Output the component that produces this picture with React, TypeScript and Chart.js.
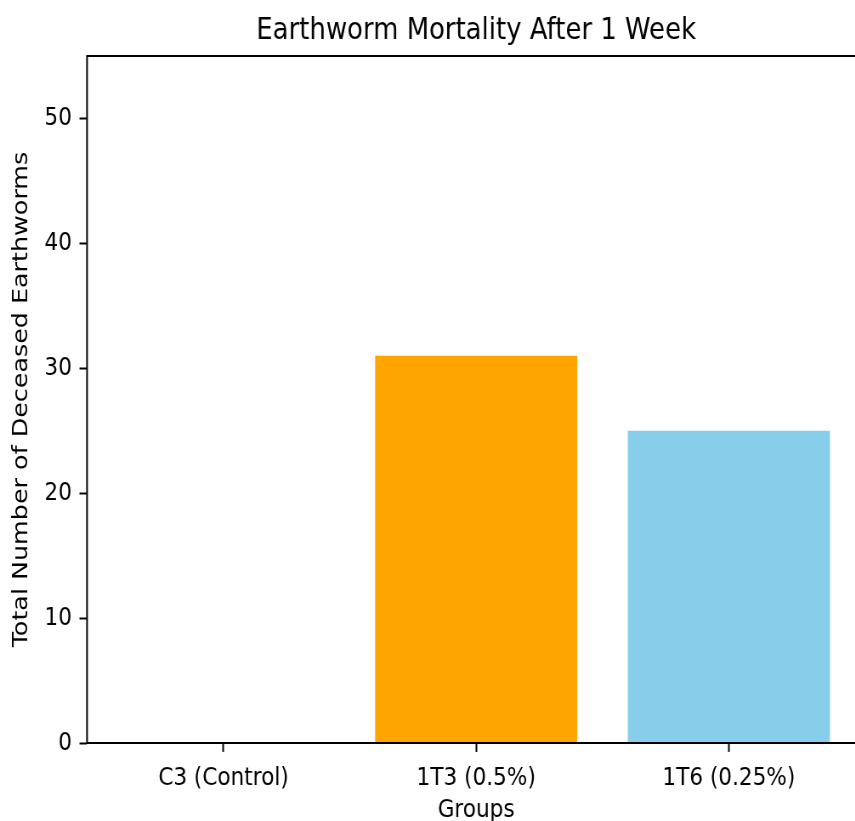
import React, { useEffect, useRef } from "react";
import { Chart, registerables } from "chart.js";

Chart.register(...registerables);

const categories = ["C3 (Control)", "1T3 (0.5%)", "1T6 (0.25%)"];
const deceased = [0, 31, 25];
const barColors = ["#1f77b4", "#FFA500", "#87CEEB"];
const yTicks = [0, 10, 20, 30, 40, 50];
const titleText = "Earthworm Mortality After 1 Week";
const xTitle = "Groups";
const yTitle = "Total Number of Deceased Earthworms";

const FONT = "'DejaVu Sans', sans-serif";
const SX = 0.85; // the reference picture is horizontally squeezed
const CANVAS_W = 1040;
const CANVAS_H = 821;

const spinePlugin = {
  id: "spines",
  afterDatasetsDraw(chart: any) {
    const { ctx, chartArea } = chart;
    ctx.save();
    ctx.strokeStyle = "#000";
    ctx.lineWidth = 2;
    ctx.strokeRect(chartArea.left, chartArea.top, chartArea.right - chartArea.left, chartArea.bottom - chartArea.top);
    ctx.restore();
  },
};

export default function App() {
  const ref = useRef<HTMLCanvasElement | null>(null);
  useEffect(() => {
    if (!ref.current) return;
    const chart = new Chart(ref.current, {
      type: "bar",
      data: {
        datasets: [
          {
            data: deceased.map((v, i) => ({ x: i, y: v })),
            backgroundColor: barColors,
            borderWidth: 0,
            barPercentage: 1,
            categoryPercentage: 0.8,
          },
        ],
      },
      options: {
        responsive: false,
        animation: false,
        devicePixelRatio: 1,
        layout: { padding: { left: 0, right: 22, top: 0, bottom: 0 } },
        plugins: {
          legend: { display: false },
          tooltip: { enabled: false },
          title: {
            display: true,
            text: titleText,
            fullSize: false,
            color: "#000",
            font: { family: FONT, size: 30.5, weight: "normal", lineHeight: 1.2 },
            padding: { top: 12.4, bottom: 7 },
          },
        },
        scales: {
          x: {
            type: "linear",
            offset: false,
            min: -0.54,
            max: 2.54,
            afterBuildTicks: (scale: any) => {
              scale.ticks = categories.map((_, i) => ({ value: i }));
            },
            afterFit: (scale: any) => {
              scale.height = 78;
            },
            ticks: {
              color: "#000",
              font: { family: FONT, size: 25.4 },
              padding: 11.5,
              autoSkip: false,
              maxRotation: 0,
              callback: (v: any) => categories[v] ?? "",
            },
            grid: {
              offset: false,
              drawOnChartArea: false,
              drawTicks: true,
              tickLength: 8.9,
              tickColor: "#000",
              tickWidth: 2,
            },
            border: { display: false },
            title: {
              display: true,
              text: xTitle,
              color: "#000",
              font: { family: FONT, size: 25.4, lineHeight: 1.2 },
              padding: { top: 0, bottom: -5 },
            },
          },
          y: {
            type: "linear",
            min: 0,
            max: 55,
            afterBuildTicks: (scale: any) => {
              scale.ticks = yTicks.map((v) => ({ value: v }));
            },
            afterFit: (scale: any) => {
              scale.width = 102.4;
            },
            ticks: {
              color: "#000",
              font: { family: FONT, size: 25.4 },
              padding: 8.9,
            },
            grid: {
              drawOnChartArea: false,
              drawTicks: true,
              tickLength: 8.9,
              tickColor: "#000",
              tickWidth: 2,
            },
            border: { display: false },
            title: {
              display: true,
              text: yTitle,
              color: "#000",
              font: { family: FONT, size: 25.4, lineHeight: 1.2 },
              padding: { top: 10.5, bottom: 0 },
            },
          },
        },
      } as any,
      plugins: [spinePlugin],
    });
    return () => chart.destroy();
  }, []);

  return (
    <div style={{ position: "fixed", left: 0, top: 0, width: 855, height: 821, overflow: "hidden", background: "#fff" }}>
      <canvas
        ref={ref}
        width={CANVAS_W}
        height={CANVAS_H}
        style={{
          width: CANVAS_W,
          height: CANVAS_H,
          display: "block",
          transform: `scaleX(${SX})`,
          transformOrigin: "0 0",
        }}
      />
    </div>
  );
}
